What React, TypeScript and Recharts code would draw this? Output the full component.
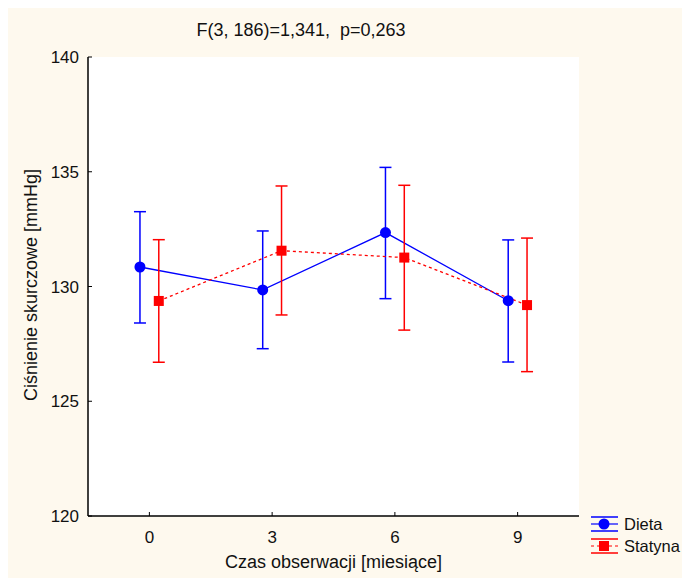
import { CartesianGrid, ComposedChart, ErrorBar, Line, XAxis, YAxis } from "recharts";

// months of observation
const months = [0, 3, 6, 9];
// Dieta: mean and confidence interval bounds
const dietaMean = [130.85, 129.85, 132.35, 129.38];
const dietaLow = [128.41, 127.29, 129.47, 126.71];
const dietaHigh = [133.26, 132.42, 135.19, 132.03];
// Statyna: mean and confidence interval bounds
const statynaMean = [129.37, 131.56, 131.26, 129.19];
const statynaLow = [126.7, 128.76, 128.1, 126.29];
const statynaHigh = [132.04, 134.38, 134.41, 132.11];
const yTicks = [120, 125, 130, 135, 140];

const FONT = "'Liberation Sans', Arial, sans-serif";
const BLUE = "#0000ff";
const RED = "#ff0000";

// groups are drawn a bit apart so the bars don't overlap
const SHIFT = 0.23;

function buildSeries(mean: number[], low: number[], high: number[], shift: number) {
  return months.map((m, i) => ({
    x: m + shift,
    y: mean[i],
    err: [mean[i] - low[i], high[i] - mean[i]],
  }));
}

const dataDieta = buildSeries(dietaMean, dietaLow, dietaHigh, -SHIFT);
const dataStatyna = buildSeries(statynaMean, statynaLow, statynaHigh, SHIFT);

const SquareDot = (props: any) => {
  const { cx, cy } = props;
  if (cx == null || cy == null) return null;
  return <rect x={cx - 5} y={cy - 5} width={10} height={10} fill={RED} />;
};

const BottomTick = (props: any) => {
  const { x, y, payload } = props;
  return (
    <g>
      <line x1={x} y1={y} x2={x} y2={y - 4} stroke="#000" />
      <text x={x} y={y + 27} textAnchor="middle" fontSize={17} fontFamily={FONT} fill="#111">
        {payload.value}
      </text>
    </g>
  );
};

const TopTick = (props: any) => {
  const { x, y } = props;
  return <line x1={x} y1={y} x2={x} y2={y + 4} stroke="#000" />;
};

const LeftTick = (props: any) => {
  const { x, y, payload } = props;
  return (
    <g>
      <line x1={x} y1={y} x2={x + 4} y2={y} stroke="#000" />
      <text x={x - 9} y={y + 6} textAnchor="end" fontSize={17} fontFamily={FONT} fill="#111">
        {payload.value}
      </text>
    </g>
  );
};

const RightTick = (props: any) => {
  const { x, y } = props;
  return <line x1={x} y1={y} x2={x - 4} y2={y} stroke="#000" />;
};

const LegendRow = ({ color, dashed, square, label }: { color: string; dashed?: boolean; square?: boolean; label: string }) => (
  <div style={{ display: "flex", alignItems: "center", height: 22 }}>
    <svg width={30} height={20}>
      <line x1={2} y1={3} x2={29} y2={3} stroke={color} strokeWidth={1.5} />
      <line x1={2} y1={17} x2={29} y2={17} stroke={color} strokeWidth={1.5} />
      <line x1={2} y1={10} x2={29} y2={10} stroke={color} strokeWidth={1.2} strokeDasharray={dashed ? "3 3" : undefined} />
      {square ? <rect x={10} y={5} width={10} height={10} fill={color} /> : <circle cx={15} cy={10} r={5.5} fill={color} />}
    </svg>
    <span style={{ marginLeft: 5, fontSize: 16.5, fontFamily: FONT, color: "#111", whiteSpace: "nowrap" }}>{label}</span>
  </div>
);

export default function App() {
  return (
    <div style={{ position: "relative", width: 682, height: 570, background: "#fef9ee", fontFamily: FONT }}>
      <div style={{ position: "absolute", left: 0, width: 586, top: 12, textAlign: "center", fontSize: 18, color: "#111" }}>
        F(3, 186)=1,341,&nbsp; p=0,263
      </div>
      <div
        style={{
          position: "absolute",
          left: 23,
          top: 277,
          transform: "translate(-50%, -50%) rotate(-90deg)",
          whiteSpace: "nowrap",
          fontSize: 18,
          color: "#111",
        }}
      >
        Ciśnienie skurczowe [mmHg]
      </div>
      <div style={{ position: "absolute", left: 80, width: 491, top: 544, textAlign: "center", fontSize: 18, color: "#111" }}>
        Czas obserwacji [miesiące]
      </div>
      <div style={{ position: "absolute", left: 581, top: 505 }}>
        <LegendRow color={BLUE} label="Dieta" />
        <LegendRow color={RED} dashed square label="Statyna" />
      </div>
      <ComposedChart
        width={682}
        height={570}
        margin={{ top: 49, right: 111, bottom: 32, left: 40 }}
        style={{ position: "absolute", left: 0, top: 0 }}
      >
        <rect x={80} y={49} width={491} height={459} fill="#fff" />
        <CartesianGrid stroke="#b8b8b8" strokeDasharray="1 2" horizontalValues={yTicks} verticalValues={months} />
        <XAxis
          xAxisId="b"
          type="number"
          dataKey="x"
          domain={[-1.5, 10.5]}
          ticks={months}
          height={30}
          tickSize={0}
          tickMargin={0}
          tick={<BottomTick />}
          axisLine={{ stroke: "#000", strokeWidth: 1.5 }}
          allowDataOverflow
        />
        <XAxis
          xAxisId="t"
          orientation="top"
          type="number"
          dataKey="x"
          domain={[-1.5, 10.5]}
          ticks={months}
          height={0}
          tickSize={0}
          tickMargin={0}
          tick={<TopTick />}
          axisLine={{ stroke: "#000", strokeWidth: 1.5 }}
          allowDataOverflow
        />
        <YAxis
          yAxisId="l"
          type="number"
          domain={[120, 140]}
          ticks={yTicks}
          width={40}
          tickSize={0}
          tickMargin={0}
          tick={<LeftTick />}
          axisLine={{ stroke: "#000", strokeWidth: 1.5 }}
        />
        <YAxis
          yAxisId="r"
          orientation="right"
          type="number"
          domain={[120, 140]}
          ticks={yTicks}
          width={0}
          tickSize={0}
          tickMargin={0}
          tick={<RightTick />}
          axisLine={{ stroke: "#000", strokeWidth: 1.5 }}
        />
        <Line
          xAxisId="b"
          yAxisId="l"
          data={dataDieta}
          dataKey="y"
          stroke={BLUE}
          strokeWidth={1.3}
          dot={{ r: 5.5, fill: BLUE, stroke: BLUE, strokeWidth: 0 }}
          activeDot={false}
          isAnimationActive={false}
        >
          <ErrorBar dataKey="err" direction="y" width={6} stroke={BLUE} strokeWidth={1.5} />
        </Line>
        <Line
          xAxisId="b"
          yAxisId="l"
          data={dataStatyna}
          dataKey="y"
          stroke={RED}
          strokeWidth={1.3}
          strokeDasharray="3 3"
          dot={<SquareDot />}
          activeDot={false}
          isAnimationActive={false}
        >
          <ErrorBar dataKey="err" direction="y" width={6} stroke={RED} strokeWidth={1.5} />
        </Line>
      </ComposedChart>
    </div>
  );
}
